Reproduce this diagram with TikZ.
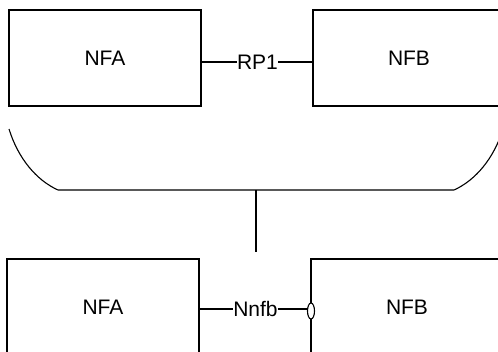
\documentclass[tikz,border=0pt]{standalone}
\usepackage{fontspec}
\setmainfont{Liberation Sans}
\usepackage{tikz}
\usetikzlibrary{shapes.geometric}
\tikzset{
  nfbox/.style={rectangle, draw=black, line width=1.1pt, minimum width=192pt, minimum height=96pt, text centered, font=\fontsize{21}{24}\selectfont},
  reflabel/.style={inner sep=0pt, font=\fontsize{21}{24}\selectfont},
  wire/.style={line width=1.1pt}
}

\begin{document}
\begin{tikzpicture}[x=1pt, y=-1pt]
    \useasboundingbox (0,0) rectangle (498,351);
    \clip (0,0) rectangle (498,351);

    % Oben: NFA und NFB ueber RP1
    \node[nfbox] (nfaTop) at (105,58) {NFA};
    \node[nfbox] (nfbTop) at (409,58) {NFB};
    \node[reflabel] (rp) at (257.5,62) {RP1};
    \draw[wire] (nfaTop.east |- rp.west) -- (rp.west);
    \draw[wire] (rp.east) -- (nfbTop.west |- rp.east);

    % Klammer und Verbindung nach unten
    \coordinate (bowlL) at (9,129);
    \coordinate (bowlR) at (503,129);
    \coordinate (bowl) at (256,190);
    \coordinate (stem) at (256,252);
    \draw[wire] (bowlL) .. controls (18,158) and (36,180) .. (58,190)
        -- (454,190) .. controls (476,180) and (494,158) .. (bowlR);
    \draw[wire] (bowl) -- (stem);

    % Unten: NFA und NFB ueber Nnfb
    \node[nfbox] (nfaLow) at (103,307) {NFA};
    \node[nfbox] (nfbLow) at (407,307) {NFB};
    \node[reflabel] (nnfb) at (255.5,309) {Nnfb};
    \node[ellipse, draw=black, line width=1.1pt, fill=white, minimum width=7pt, minimum height=16pt, inner sep=0pt] (joint) at (311,311) {};
    \draw[wire] (nfaLow.east |- nnfb.west) -- (nnfb.west);
    \draw[wire] (nnfb.east) -- (joint.west |- nnfb.east);

\end{tikzpicture}
\end{document}
